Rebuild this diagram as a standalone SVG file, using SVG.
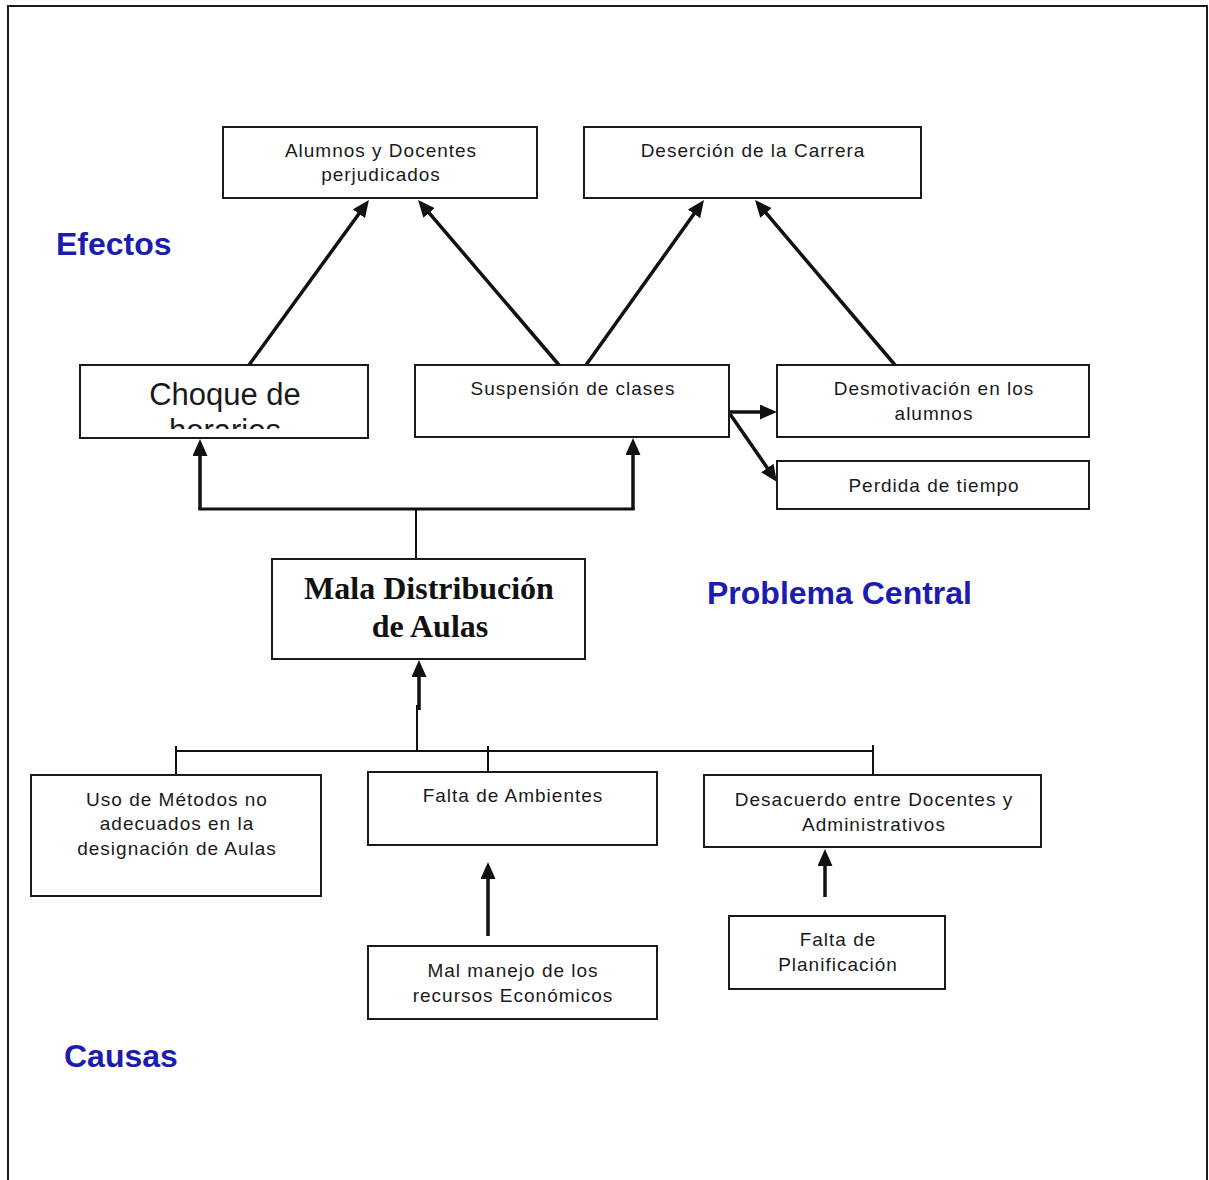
<svg xmlns="http://www.w3.org/2000/svg" width="1209" height="1180" viewBox="0 0 1209 1180">
<style>
.box{fill:#fff;stroke:#1a1a1a;stroke-width:2}
.t{font-family:"Liberation Sans",Arial,sans-serif;font-size:19px;letter-spacing:1px;text-anchor:middle;fill:#1a1a1a}
.lbl{font-family:"Liberation Sans",Arial,sans-serif;font-size:32px;font-weight:bold;fill:#1c1cb0}
.arr{stroke:#111;stroke-width:3.5;fill:none;marker-end:url(#ah)}
.thick{stroke:#111;stroke-width:3;fill:none}
.thin{stroke:#111;stroke-width:2;fill:none}
.big{font-family:"Liberation Sans",Arial,sans-serif;font-size:31px;text-anchor:middle;fill:#1a1a1a}
.serif{font-family:"Liberation Serif","Times New Roman",serif;font-size:32px;font-weight:bold;text-anchor:middle;fill:#111}
</style>
<defs>
<marker id="ah" markerUnits="userSpaceOnUse" viewBox="0 0 17 15" markerWidth="17" markerHeight="15" refX="4" refY="7.5" orient="auto">
<path d="M0,0 L17,7.5 L0,15 z" fill="#111"/>
</marker>
<clipPath id="clipC"><rect x="81" y="366" width="286" height="63"/></clipPath>
</defs>
<rect width="1209" height="1180" fill="#fff"/>
<path d="M8,1180 V6 H1207 V1180" fill="none" stroke="#1a1a1a" stroke-width="2"/>

<text class="lbl" x="56" y="255">Efectos</text>
<text class="lbl" x="707" y="604">Problema Central</text>
<text class="lbl" x="64" y="1067">Causas</text>

<g id="connectors">
<line class="arr" x1="249" y1="365" x2="361.3" y2="210.5"/>
<line class="arr" x1="559" y1="365" x2="426.5" y2="209.9"/>
<line class="arr" x1="586" y1="365" x2="696.4" y2="210.6"/>
<line class="arr" x1="895" y1="365" x2="763.4" y2="209.9"/>
<line class="arr" x1="729" y1="412" x2="764" y2="412"/>
<line class="arr" x1="730" y1="414" x2="769.6" y2="471.3"/>
<line class="thin" x1="416" y1="559" x2="416" y2="509"/>
<line class="thick" x1="198.5" y1="509" x2="634.5" y2="509"/>
<line class="arr" x1="200" y1="510" x2="200" y2="452"/>
<line class="arr" x1="633" y1="510" x2="633" y2="451"/>
<line class="thin" x1="417" y1="751" x2="417" y2="705"/>
<line class="arr" x1="419" y1="710" x2="419" y2="673"/>
<line class="thin" x1="176" y1="751" x2="873" y2="751"/>
<line class="thin" x1="176" y1="746" x2="176" y2="775"/>
<line class="thin" x1="488" y1="746" x2="488" y2="772"/>
<line class="thin" x1="873" y1="745" x2="873" y2="775"/>
<line class="arr" x1="488" y1="936" x2="488" y2="875"/>
<line class="arr" x1="825" y1="897" x2="825" y2="862"/>
</g>

<g id="alumnos">
<rect class="box" x="223" y="127" width="314" height="71"/>
<text class="t" x="381" y="157">Alumnos y Docentes</text>
<text class="t" x="381" y="181">perjudicados</text>
</g>
<g id="desercion">
<rect class="box" x="584" y="127" width="337" height="71"/>
<text class="t" x="753" y="157">Deserción de la Carrera</text>
</g>
<g id="choque">
<rect class="box" x="80" y="365" width="288" height="73"/>
<g clip-path="url(#clipC)">
<text class="big" x="225" y="405">Choque de</text>
<text class="big" x="225" y="441">horarios</text>
</g>
</g>
<g id="suspension">
<rect class="box" x="415" y="365" width="314" height="72"/>
<text class="t" x="573" y="395">Suspensión de clases</text>
</g>
<g id="desmotivacion">
<rect class="box" x="777" y="365" width="312" height="72"/>
<text class="t" x="934" y="395">Desmotivación en los</text>
<text class="t" x="934" y="420">alumnos</text>
</g>
<g id="perdida">
<rect class="box" x="777" y="461" width="312" height="48"/>
<text class="t" x="934" y="492">Perdida de tiempo</text>
</g>
<g id="mala">
<rect class="box" x="272" y="559" width="313" height="100"/>
<text class="serif" x="429" y="599">Mala Distribución</text>
<text class="serif" x="430" y="637">de Aulas</text>
</g>
<g id="uso">
<rect class="box" x="31" y="775" width="290" height="121"/>
<text class="t" x="177" y="806">Uso de Métodos no</text>
<text class="t" x="177" y="830">adecuados en la</text>
<text class="t" x="177" y="855">designación de Aulas</text>
</g>
<g id="falta-ambientes">
<rect class="box" x="368" y="772" width="289" height="73"/>
<text class="t" x="513" y="802">Falta de Ambientes</text>
</g>
<g id="desacuerdo">
<rect class="box" x="704" y="775" width="337" height="72"/>
<text class="t" x="874" y="806">Desacuerdo entre Docentes y</text>
<text class="t" x="874" y="831">Administrativos</text>
</g>
<g id="mal-manejo">
<rect class="box" x="368" y="946" width="289" height="73"/>
<text class="t" x="513" y="977">Mal manejo de los</text>
<text class="t" x="513" y="1002">recursos Económicos</text>
</g>
<g id="falta-planificacion">
<rect class="box" x="729" y="916" width="216" height="73"/>
<text class="t" x="838" y="946">Falta de</text>
<text class="t" x="838" y="971">Planificación</text>
</g>
</svg>
